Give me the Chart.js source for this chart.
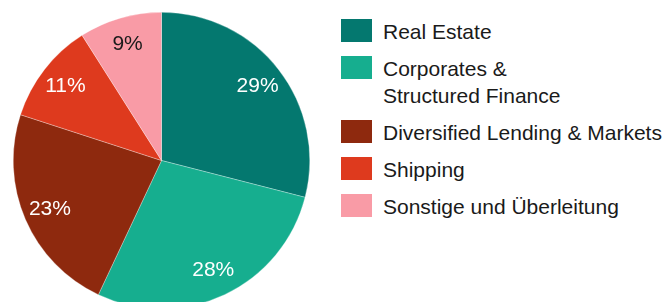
<!DOCTYPE html>
<html>
<head>
<meta charset="utf-8">
<script src="https://cdn.jsdelivr.net/npm/chart.js@4/dist/chart.umd.min.js"></script>
<style>
	html, body {
		margin: 0;
		padding: 0;
		width: 668px;
		height: 302px;
		overflow: hidden;
		background: #fff;
		font-family: "Liberation Sans", Arial, sans-serif;
	}
	#pie {
		position: absolute;
		left: 13px;
		top: 12px;
	}
	#legend {
		position: absolute;
		left: 341px;
		top: 19px;
	}
	.item {
		display: flex;
		align-items: flex-start;
		margin-bottom: 11px;
	}
	.box {
		width: 31px;
		height: 23px;
		margin-right: 11px;
		flex: none;
	}
	.text {
		font-size: 21px;
		line-height: 27px;
		color: #1a1a1a;
		white-space: nowrap;
		margin-top: -1px;
	}
</style>
</head>
<body>
<canvas id="pie" width="297" height="297"></canvas>
<div id="legend"></div>
<script>
const labels = [
	"Real Estate",
	["Corporates &", "Structured Finance"],
	"Diversified Lending & Markets",
	"Shipping",
	"Sonstige und Überleitung",
];
const shares = [29, 28, 23, 11, 9];
const colors = ["#04786f", "#16ae8f", "#8e290e", "#de3a1e", "#f99ba6"];
const labelColors = ["#ffffff", "#ffffff", "#ffffff", "#ffffff", "#1a1a1a"];

// ---------------------------------------- Legend ----------------------------------------

const legend = document.getElementById("legend");
for (let i = 0; i < labels.length; i++) {
	const item = document.createElement("div");
	item.className = "item";
	const box = document.createElement("div");
	box.className = "box";
	box.style.background = colors[i];
	const text = document.createElement("div");
	text.className = "text";
	const lines = Array.isArray(labels[i]) ? labels[i] : [labels[i]];
	text.innerHTML = lines.join("<br>");
	item.appendChild(box);
	item.appendChild(text);
	legend.appendChild(item);
}

// ---------------------------------------- Slice labels ----------------------------------------

const sliceLabels = {
	id: "sliceLabels",
	afterDatasetsDraw(chart) {
		const ctx = chart.ctx;
		const arcs = chart.getDatasetMeta(0).data;
		ctx.save();
		ctx.font = "21px 'Liberation Sans', Arial, sans-serif";
		ctx.textAlign = "center";
		ctx.textBaseline = "middle";
		arcs.forEach((arc, i) => {
			const p = arc.getProps(["x", "y", "startAngle", "endAngle", "outerRadius"], true);
			const mid = (p.startAngle + p.endAngle) / 2;
			const r = p.outerRadius * 0.82;
			ctx.fillStyle = labelColors[i];
			ctx.fillText(shares[i] + "%", p.x + Math.cos(mid) * r, p.y + Math.sin(mid) * r);
		});
		ctx.restore();
	},
};

// ---------------------------------------- Pie ----------------------------------------

const graphPie = new Chart(document.getElementById("pie"), {
	type: "pie",
	data: {
		labels: labels,
		datasets: [
			{
				data: shares,
				backgroundColor: colors,
				borderColor: "rgba(255, 255, 255, 0.6)",
				borderWidth: 0.5,
				hoverOffset: 0,
			},
		],
	},
	options: {
		responsive: false,
		animation: false,
		layout: { padding: 0 },
		plugins: {
			legend: { display: false },
			tooltip: { enabled: false },
		},
	},
	plugins: [sliceLabels],
});
</script>
</body>
</html>
